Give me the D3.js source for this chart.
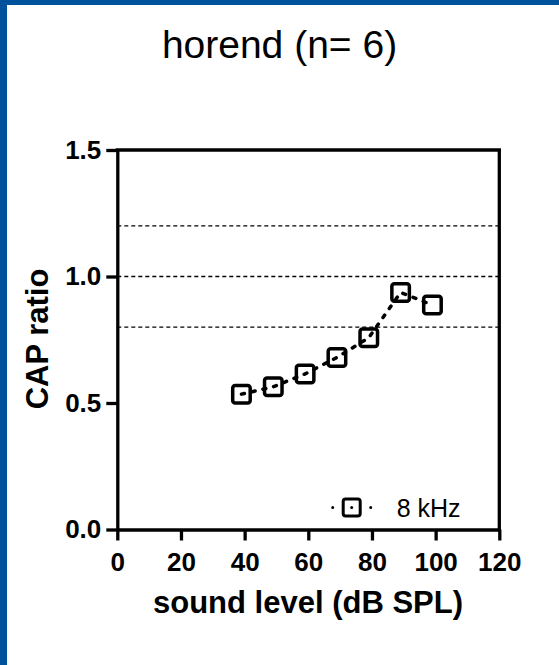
<!DOCTYPE html>
<html>
<head>
<meta charset="utf-8">
<script src="https://cdn.jsdelivr.net/npm/d3@7"></script>
<style>
  html, body { margin: 0; padding: 0; background: #fff; }
  svg { display: block; }
  text { font-family: "Liberation Sans", Arial, Helvetica, sans-serif; fill: #000; }
</style>
</head>
<body>
<script>
// ---- data ----
const title = "horend (n= 6)";
const xLabel = "sound level (dB SPL)";
const yLabel = "CAP ratio";
const seriesName = "8 kHz";
const soundLevels = [39, 49, 59, 69, 79, 89, 99];
const capRatio = [0.535, 0.564, 0.615, 0.680, 0.758, 0.937, 0.887];
const xTicks = [0, 20, 40, 60, 80, 100, 120];
const yTicks = [0.0, 0.5, 1.0, 1.5];
const refLines = [0.8, 1.0, 1.2];

const W = 559, H = 665;
const svg = d3.select("body").append("svg").attr("width", W).attr("height", H);

// blue frame (left and top)
svg.append("rect").attr("x", 0).attr("y", 0).attr("width", 7).attr("height", H).attr("fill", "#00529C");
svg.append("rect").attr("x", 0).attr("y", 0).attr("width", W).attr("height", 5).attr("fill", "#00529C");

const x = d3.scaleLinear().domain([0, 120]).range([117.3, 499.3]);
const y = d3.scaleLinear().domain([0, 1.5]).range([529.5, 150]);

// title
svg.append("text").attr("x", 279.5).attr("y", 58).attr("text-anchor", "middle")
  .style("font-size", "39px").text(title);

// reference dashed lines
svg.append("g").selectAll("line").data(refLines).join("line")
  .attr("x1", x(0)).attr("x2", x(120))
  .attr("y1", d => y(d)).attr("y2", d => y(d))
  .attr("stroke", "#000").attr("stroke-width", 1.3)
  .attr("stroke-dasharray", "4,3");

// axes
const xAxis = d3.axisBottom(x).tickValues(xTicks).tickFormat(d3.format("d"))
  .tickSize(11).tickSizeOuter(0).tickPadding(12);
const yAxis = d3.axisLeft(y).tickValues(yTicks).tickFormat(d3.format(".1f"))
  .tickSize(11).tickSizeOuter(0).tickPadding(5);

const gx = svg.append("g").attr("transform", `translate(0,${y(0)})`).call(xAxis);
const gy = svg.append("g").attr("transform", `translate(${x(0)},0)`).call(yAxis);
[gx, gy].forEach(g => {
  g.select(".domain").attr("stroke", "#000").attr("stroke-width", 3.3);
  g.selectAll(".tick line").attr("stroke", "#000").attr("stroke-width", 3.3);
  g.selectAll(".tick text").style("font-size", "26px").style("font-weight", "bold")
    .style("font-family", "'Liberation Sans', Arial, sans-serif").attr("fill", "#000");
});
gx.selectAll(".tick text").attr("dy", "0.71em");
// top and right frame
svg.append("line").attr("x1", x(0) - 1.65).attr("x2", x(120) + 1.65).attr("y1", y(1.5)).attr("y2", y(1.5))
  .attr("stroke", "#000").attr("stroke-width", 3.3);
svg.append("line").attr("x1", x(120)).attr("x2", x(120)).attr("y1", y(1.5)).attr("y2", y(0) + 1.65)
  .attr("stroke", "#000").attr("stroke-width", 3.3);

// axis titles
svg.append("text").attr("x", 308).attr("y", 613).attr("text-anchor", "middle")
  .style("font-size", "31px").style("font-weight", "bold").text(xLabel);
svg.append("text").attr("transform", "translate(48,339) rotate(-90)").attr("text-anchor", "middle")
  .style("font-size", "31px").style("font-weight", "bold").text(yLabel);

// data line
const pts = soundLevels.map((d, i) => [d, capRatio[i]]);
const line = d3.line().x(d => x(d[0])).y(d => y(d[1]));
svg.append("path").datum(pts).attr("d", line)
  .attr("fill", "none").attr("stroke", "#000").attr("stroke-width", 3.5)
  .attr("stroke-linecap", "round").attr("stroke-dasharray", "3,8");

// markers
const ms = 17.5;
svg.append("g").selectAll("rect").data(pts).join("rect")
  .attr("x", d => x(d[0]) - ms / 2).attr("y", d => y(d[1]) - ms / 2)
  .attr("width", ms).attr("height", ms).attr("rx", 2.5)
  .attr("fill", "none").attr("stroke", "#000").attr("stroke-width", 3.5);

// legend
const lx = 351.7, ly = 507.5;
svg.append("line").attr("x1", lx - 19).attr("x2", lx + 19).attr("y1", ly).attr("y2", ly)
  .attr("stroke", "#000").attr("stroke-width", 3).attr("stroke-linecap", "round")
  .attr("stroke-dasharray", "0.01,18.99");
const lms = 17;
svg.append("rect").attr("x", lx - lms / 2).attr("y", ly - lms / 2).attr("width", lms).attr("height", lms)
  .attr("rx", 2.5).attr("fill", "none").attr("stroke", "#000").attr("stroke-width", 3);
svg.append("text").attr("x", 396.7).attr("y", 517.3).style("font-size", "25px").text(seriesName);
</script>
</body>
</html>
